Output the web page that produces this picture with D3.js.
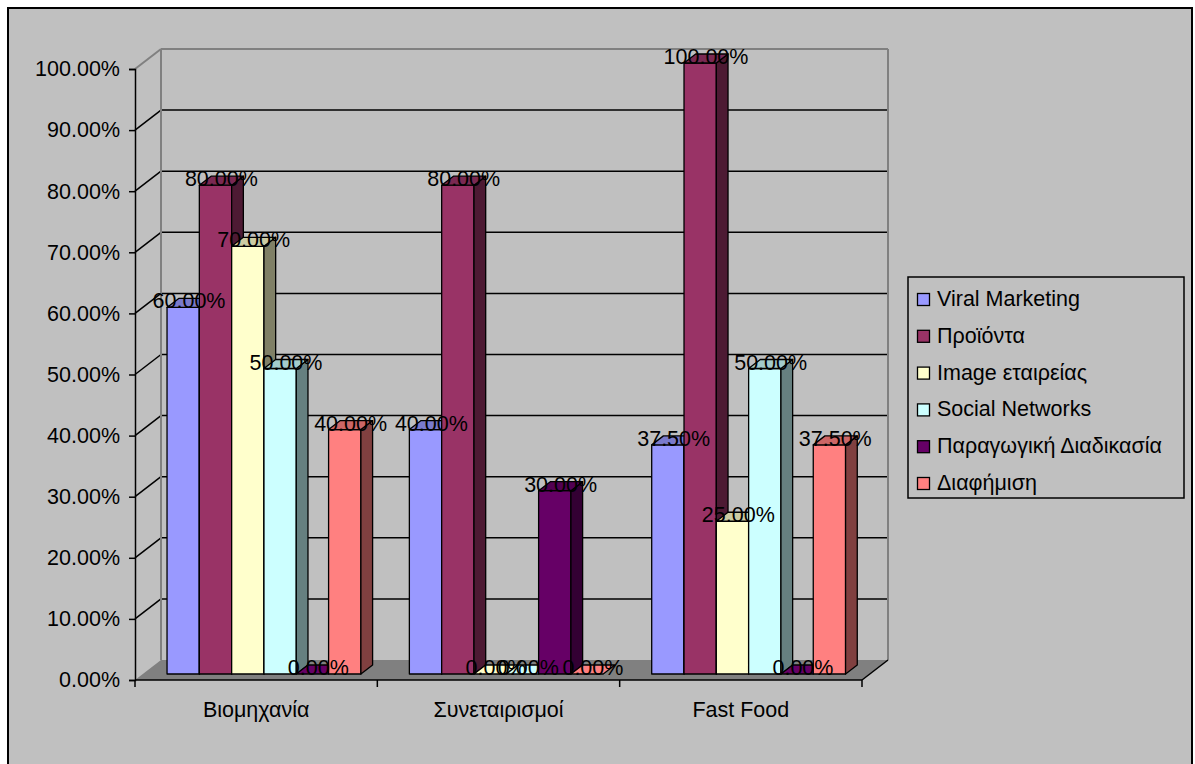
<!DOCTYPE html>
<html>
<head>
<meta charset="utf-8">
<script src="https://cdn.jsdelivr.net/npm/d3@7"></script>
<style>
  body { margin: 0; background: #ffffff; }
  svg { display: block; }
  text { font-family: "Liberation Sans", Arial, sans-serif; fill: #000; }
</style>
</head>
<body>
<svg id="chart" width="1195" height="764"></svg>
<script>
// ---- data ----
const categories = ["Βιομηχανία", "Συνεταιρισμοί", "Fast Food"];
const seriesNames = ["Viral Marketing", "Προϊόντα", "Image εταιρείας", "Social Networks", "Παραγωγική Διαδικασία", "Διαφήμιση"];
const viralMarketing = [0.60, 0.40, 0.375];
const proionta       = [0.80, 0.80, 1.00];
const imageEtaireias = [0.70, 0.00, 0.25];
const socialNetworks = [0.50, 0.00, 0.50];
const paragogiki     = [0.00, 0.30, 0.00];
const diafimisi      = [0.40, 0.00, 0.375];
const yTicks = [0, 0.1, 0.2, 0.3, 0.4, 0.5, 0.6, 0.7, 0.8, 0.9, 1.0];

const seriesValues = [viralMarketing, proionta, imageEtaireias, socialNetworks, paragogiki, diafimisi];

// face colours: front, top, side
const frontColors = ["#9999FF", "#993366", "#FFFFCC", "#CCFFFF", "#660066", "#FF8080"];
const topColors   = ["#7A7ACC", "#7A2952", "#CCCCA3", "#A3CCCC", "#520052", "#CC6666"];
const sideColors  = ["#4D4D80", "#4D1A33", "#808066", "#668080", "#330033", "#804040"];

// ---- layout ----
const svg = d3.select("#chart");
const FONT = 21.5;

// full depth of the 3-D box (front plane -> back wall)
const DX = 26, DY = -20;
// bars sit between 30% and 75% of the depth
const barFront = 0.30, barDepth = 0.45;

const x = d3.scaleBand().domain(categories).range([135, 862]).paddingInner(0).paddingOuter(0);
const s = d3.scaleBand().domain(seriesNames).range([0, x.bandwidth()]).paddingInner(0).paddingOuter(0.75);
const y = d3.scaleLinear().domain([0, 1]).range([680, 69]);

const x0 = x.range()[0], x1 = x.range()[1];

// chart area
svg.append("rect")
  .attr("x", 8).attr("y", 8).attr("width", 1184).attr("height", 762)
  .attr("fill", "#C0C0C0").attr("stroke", "#000").attr("stroke-width", 2);

// floor
svg.append("polygon")
  .attr("points", [[x0, y(0)], [x1, y(0)], [x1 + DX, y(0) + DY], [x0 + DX, y(0) + DY]].map(p => p.join(",")).join(" "))
  .attr("fill", "#808080");

// walls: gridlines on back wall and side wall
const grid = svg.append("g");
yTicks.filter(t => t > 0 && t < 1).forEach(t => {
  grid.append("line")
    .attr("x1", x0 + DX).attr("x2", x1 + DX)
    .attr("y1", y(t) + DY).attr("y2", y(t) + DY)
    .attr("stroke", "#000").attr("stroke-width", 1.5);
  grid.append("line")
    .attr("x1", x0).attr("x2", x0 + DX)
    .attr("y1", y(t)).attr("y2", y(t) + DY)
    .attr("stroke", "#000").attr("stroke-width", 1.5);
});
// wall outlines
const wallEdge = [
  [[x0 + DX, y(1) + DY], [x1 + DX, y(1) + DY]],
  [[x0 + DX, y(1) + DY], [x0 + DX, y(0) + DY]],
  [[x1 + DX, y(1) + DY], [x1 + DX, y(0) + DY]],
  [[x0, y(1)], [x0 + DX, y(1) + DY]]
];
wallEdge.forEach(([a, b]) => {
  grid.append("line")
    .attr("x1", a[0]).attr("y1", a[1]).attr("x2", b[0]).attr("y2", b[1])
    .attr("stroke", "#808080").attr("stroke-width", 2);
});

// ---- bars ----
const bdx0 = DX * barFront, bdy0 = DY * barFront;
const ddx = DX * barDepth, ddy = DY * barDepth;
const w = s.bandwidth();
const bars = [];
categories.forEach((c, i) => {
  seriesNames.forEach((name, j) => {
    const v = seriesValues[j][i];
    const bx = x(c) + s(name) + bdx0;
    const yb = y(0) + bdy0;
    const yt = y(v) + bdy0;
    bars.push({ c, j, v, bx, yb, yt });
  });
});

const gBars = svg.append("g").attr("stroke", "#000").attr("stroke-width", 1.3).attr("stroke-linejoin", "round");
const pts = arr => arr.map(p => p.join(",")).join(" ");
bars.forEach(b => {
  const g = gBars.append("g");
  if (b.v > 0) {
    g.append("rect")
      .attr("x", b.bx).attr("y", b.yt).attr("width", w).attr("height", b.yb - b.yt)
      .attr("fill", frontColors[b.j]);
    g.append("polygon")
      .attr("points", pts([[b.bx + w, b.yt], [b.bx + w + ddx, b.yt + ddy], [b.bx + w + ddx, b.yb + ddy], [b.bx + w, b.yb]]))
      .attr("fill", sideColors[b.j]);
  }
  g.append("polygon")
    .attr("points", pts([[b.bx, b.yt], [b.bx + ddx, b.yt + ddy], [b.bx + w + ddx, b.yt + ddy], [b.bx + w, b.yt]]))
    .attr("fill", b.v > 0 ? topColors[b.j] : frontColors[b.j]);
});

// floor front edge (right side)
svg.append("line").attr("x1", x1).attr("y1", y(0)).attr("x2", x1 + DX).attr("y2", y(0) + DY)
  .attr("stroke", "#000").attr("stroke-width", 1.5);

// ---- axes ----
const yAxis = svg.append("g")
  .attr("transform", `translate(${x0},0)`)
  .call(d3.axisLeft(y).tickValues(yTicks).tickFormat(d3.format(".2%")).tickSize(6).tickPadding(9));
yAxis.attr("font-family", null).attr("font-size", null);
yAxis.selectAll("path, line").attr("stroke", "#000").attr("stroke-width", 1.5);
yAxis.selectAll("text").attr("font-size", FONT);

// category axis: line, boundary ticks, centred labels
const xAxis = svg.append("g");
xAxis.append("line").attr("x1", x0).attr("x2", x1).attr("y1", y(0)).attr("y2", y(0))
  .attr("stroke", "#000").attr("stroke-width", 1.5);
const bounds = categories.map(c => x(c)).concat([x1]);
xAxis.selectAll("line.tick").data(bounds).join("line")
  .attr("class", "tick")
  .attr("x1", d => d).attr("x2", d => d).attr("y1", y(0)).attr("y2", y(0) + 7)
  .attr("stroke", "#000").attr("stroke-width", 1.5);
xAxis.selectAll("text").data(categories).join("text")
  .attr("x", d => x(d) + x.bandwidth() / 2)
  .attr("y", 717)
  .attr("text-anchor", "middle")
  .attr("font-size", FONT)
  .text(d => d);

// ---- data labels ----
const fmt = d3.format(".2%");
svg.append("g").selectAll("text").data(bars).join("text")
  .attr("x", b => b.bx + w / 2 + ddx / 2)
  .attr("y", b => b.yt + ddy / 2 - 2)
  .attr("dy", "0.35em")
  .attr("text-anchor", "middle")
  .attr("font-size", FONT)
  .text(b => fmt(b.v));

// ---- legend ----
const legend = svg.append("g");
legend.append("rect")
  .attr("x", 908).attr("y", 277).attr("width", 276).attr("height", 221)
  .attr("fill", "#C0C0C0").attr("stroke", "#000").attr("stroke-width", 1.5);
seriesNames.forEach((name, j) => {
  const base = 306 + j * 36.8;
  legend.append("rect")
    .attr("x", 917.5).attr("y", base - 12.5).attr("width", 12).attr("height", 12)
    .attr("fill", frontColors[j]).attr("stroke", "#000").attr("stroke-width", 1.3);
  legend.append("text")
    .attr("x", 937).attr("y", base)
    .attr("font-size", FONT)
    .text(name);
});
</script>
</body>
</html>
